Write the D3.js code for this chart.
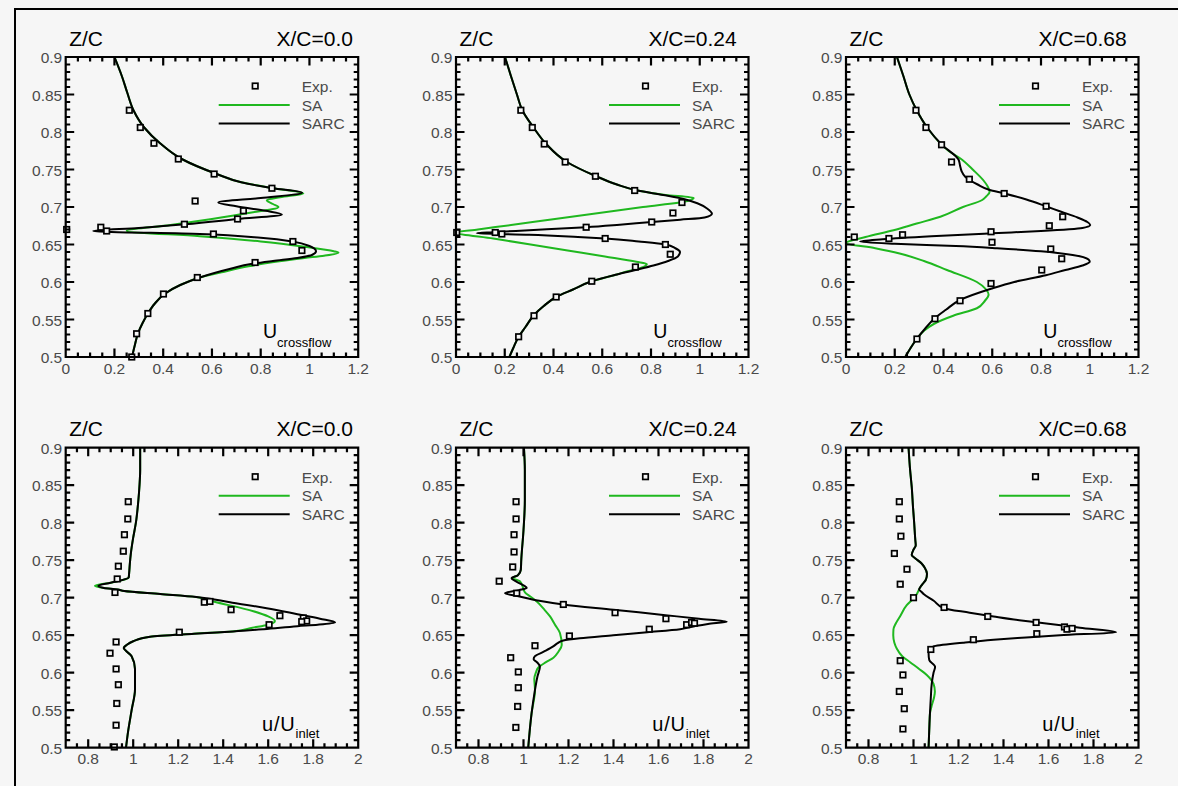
<!DOCTYPE html>
<html>
<head>
<meta charset="utf-8">
<script src="https://cdn.jsdelivr.net/npm/d3@7"></script>
<style>
  html, body { margin: 0; padding: 0; background: #f6f6f6; }
  svg { display: block; }
  text { font-family: "Liberation Sans", Arial, Helvetica, sans-serif; }
</style>
</head>
<body>
<svg id="chart" width="1178" height="786"></svg>
<script>
// ---------- categories / labels ----------
const stations = ["X/C=0.0", "X/C=0.24", "X/C=0.68"];
const seriesNames = ["Exp.", "SA", "SARC"];
const zTicks = [0.5, 0.55, 0.6, 0.65, 0.7, 0.75, 0.8, 0.85, 0.9];
const crossTicks = [0, 0.2, 0.4, 0.6, 0.8, 1, 1.2];
const streamTicks = [0.8, 1, 1.2, 1.4, 1.6, 1.8, 2];

// ---------- crossflow velocity, X/C = 0.0  ([U, Z/C]) ----------
const crossExp0 = [[0.261,0.829],[0.306,0.806],[0.362,0.785],[0.462,0.764],[0.609,0.744],[0.846,0.725],[0.531,0.708],[0.729,0.695],[0.705,0.684],[0.487,0.677],[0.144,0.673],[0.004,0.670],[0.168,0.668],[0.606,0.664],[0.932,0.654],[0.969,0.642],[0.777,0.626],[0.540,0.606],[0.401,0.584],[0.337,0.558],[0.291,0.531],[0.271,0.500]];
const crossSA0 = [[0.200,0.900],[0.232,0.873],[0.252,0.853],[0.278,0.829],[0.322,0.806],[0.387,0.785],[0.476,0.764],[0.620,0.744],[0.720,0.733],[0.850,0.725],[0.975,0.718],[0.880,0.713],[0.825,0.709],[0.850,0.704],[0.873,0.700],[0.750,0.692],[0.600,0.684],[0.430,0.676],[0.250,0.668],[0.550,0.661],[0.800,0.654],[0.980,0.647],[1.100,0.641],[1.119,0.639],[1.060,0.635],[0.980,0.632],[0.840,0.626],[0.750,0.621],[0.640,0.613],[0.550,0.606],[0.470,0.596],[0.405,0.584],[0.365,0.571],[0.337,0.558],[0.315,0.545],[0.297,0.532],[0.283,0.515],[0.272,0.500]];
const crossSARC0 = [[0.200,0.900],[0.232,0.873],[0.252,0.853],[0.278,0.829],[0.322,0.806],[0.387,0.785],[0.476,0.764],[0.620,0.744],[0.720,0.733],[0.850,0.725],[0.970,0.719],[0.800,0.712],[0.626,0.706],[0.700,0.701],[0.820,0.695],[0.887,0.690],[0.705,0.684],[0.490,0.677],[0.300,0.672],[0.113,0.668],[0.550,0.664],[0.800,0.659],[0.930,0.654],[1.000,0.648],[1.027,0.641],[1.010,0.636],[0.950,0.632],[0.850,0.628],[0.760,0.624],[0.680,0.618],[0.610,0.612],[0.550,0.606],[0.470,0.596],[0.405,0.584],[0.365,0.571],[0.337,0.558],[0.315,0.545],[0.297,0.532],[0.283,0.515],[0.272,0.500]];

// ---------- crossflow velocity, X/C = 0.24 ----------
const crossExp24 = [[0.266,0.829],[0.313,0.806],[0.362,0.784],[0.448,0.760],[0.572,0.741],[0.733,0.722],[0.927,0.706],[0.890,0.692],[0.803,0.680],[0.534,0.673],[0.161,0.666],[0.003,0.666],[0.188,0.664],[0.612,0.658],[0.859,0.650],[0.879,0.637],[0.736,0.620],[0.557,0.601],[0.411,0.580],[0.320,0.555],[0.257,0.527]];
const crossSA24 = [[0.201,0.900],[0.225,0.875],[0.250,0.850],[0.272,0.829],[0.318,0.806],[0.370,0.784],[0.455,0.760],[0.575,0.741],[0.660,0.730],[0.745,0.722],[0.860,0.716],[0.975,0.712],[0.950,0.708],[0.767,0.700],[0.587,0.692],[0.406,0.684],[0.226,0.676],[0.090,0.670],[0.000,0.666],[0.153,0.658],[0.306,0.650],[0.458,0.642],[0.611,0.634],[0.740,0.627],[0.783,0.624],[0.760,0.619],[0.700,0.614],[0.660,0.610],[0.557,0.601],[0.480,0.590],[0.411,0.580],[0.360,0.568],[0.320,0.556],[0.285,0.540],[0.257,0.527],[0.235,0.512],[0.219,0.500]];
const crossSARC24 = [[0.201,0.900],[0.225,0.875],[0.250,0.850],[0.272,0.829],[0.318,0.806],[0.370,0.784],[0.455,0.760],[0.575,0.741],[0.660,0.730],[0.745,0.722],[0.850,0.716],[0.930,0.711],[0.990,0.705],[1.030,0.698],[1.050,0.691],[1.020,0.686],[0.920,0.683],[0.803,0.680],[0.660,0.676],[0.534,0.673],[0.300,0.669],[0.150,0.6665],[0.085,0.665],[0.300,0.663],[0.500,0.660],[0.612,0.658],[0.750,0.654],[0.860,0.650],[0.900,0.645],[0.919,0.640],[0.910,0.634],[0.870,0.628],[0.810,0.622],[0.750,0.617],[0.660,0.610],[0.557,0.601],[0.480,0.590],[0.411,0.580],[0.360,0.568],[0.320,0.556],[0.285,0.540],[0.257,0.527],[0.235,0.512],[0.219,0.500]];

// ---------- crossflow velocity, X/C = 0.68 ----------
const crossExp68 = [[0.287,0.829],[0.328,0.806],[0.392,0.783],[0.433,0.760],[0.506,0.737],[0.649,0.718],[0.821,0.701],[0.889,0.687],[0.834,0.675],[0.595,0.667],[0.232,0.663],[0.176,0.658],[0.034,0.660],[0.599,0.653],[0.840,0.644],[0.885,0.631],[0.803,0.616],[0.595,0.598],[0.468,0.575],[0.365,0.551],[0.291,0.524]];
const crossSA68 = [[0.209,0.900],[0.235,0.875],[0.260,0.850],[0.290,0.829],[0.333,0.806],[0.393,0.783],[0.420,0.775],[0.468,0.765],[0.523,0.749],[0.565,0.735],[0.585,0.725],[0.589,0.720],[0.575,0.714],[0.557,0.709],[0.480,0.700],[0.387,0.687],[0.290,0.678],[0.195,0.669],[0.080,0.660],[0.000,0.652],[0.120,0.645],[0.220,0.638],[0.320,0.628],[0.414,0.616],[0.537,0.600],[0.575,0.590],[0.585,0.583],[0.570,0.575],[0.537,0.565],[0.440,0.555],[0.360,0.544],[0.320,0.535],[0.290,0.524],[0.265,0.512],[0.243,0.500]];
const crossSARC68 = [[0.209,0.900],[0.235,0.875],[0.260,0.850],[0.290,0.829],[0.333,0.806],[0.393,0.783],[0.462,0.763],[0.468,0.755],[0.474,0.748],[0.490,0.740],[0.540,0.730],[0.587,0.723],[0.650,0.718],[0.740,0.710],[0.820,0.701],[0.880,0.694],[0.950,0.686],[0.990,0.680],[1.002,0.676],[0.970,0.672],[0.800,0.668],[0.600,0.665],[0.350,0.661],[0.150,0.657],[0.058,0.654],[0.200,0.651],[0.450,0.648],[0.620,0.645],[0.800,0.641],[0.930,0.636],[0.995,0.630],[1.000,0.627],[0.970,0.622],[0.900,0.616],[0.820,0.609],[0.690,0.600],[0.595,0.591],[0.468,0.576],[0.410,0.563],[0.365,0.552],[0.325,0.538],[0.290,0.524],[0.265,0.512],[0.243,0.500]];

// ---------- streamwise velocity, X/C = 0.0  ([u/Uinlet, Z/C]) ----------
const streamExp0 = [[0.978,0.828],[0.976,0.805],[0.961,0.784],[0.956,0.762],[0.934,0.742],[0.929,0.725],[0.919,0.707],[1.316,0.694],[1.341,0.695],[1.435,0.684],[1.652,0.676],[1.756,0.673],[1.771,0.669],[1.749,0.668],[1.604,0.664],[1.205,0.654],[0.924,0.641],[0.897,0.626],[0.924,0.605],[0.934,0.584],[0.927,0.559],[0.924,0.530],[0.916,0.501]];
const streamSA0 = [[1.031,0.900],[1.031,0.870],[1.028,0.850],[1.023,0.830],[1.012,0.800],[1.000,0.780],[0.990,0.760],[0.985,0.745],[0.982,0.733],[0.980,0.727],[0.900,0.720],[0.830,0.716],[0.870,0.713],[0.930,0.711],[0.960,0.709],[1.120,0.705],[1.280,0.701],[1.356,0.695],[1.534,0.682],[1.600,0.675],[1.630,0.669],[1.620,0.666],[1.600,0.664],[1.530,0.660],[1.440,0.655],[1.270,0.652],[1.075,0.648],[1.000,0.642],[0.971,0.637],[0.958,0.633],[0.965,0.630],[0.993,0.622],[1.008,0.605],[1.008,0.578],[0.993,0.550],[0.978,0.523],[0.968,0.500]];
const streamSARC0 = [[1.031,0.900],[1.031,0.870],[1.028,0.850],[1.023,0.830],[1.012,0.800],[1.000,0.780],[0.990,0.760],[0.985,0.745],[0.982,0.733],[0.980,0.727],[0.900,0.720],[0.845,0.716],[0.870,0.713],[0.930,0.711],[0.960,0.709],[1.120,0.705],[1.280,0.701],[1.430,0.694],[1.593,0.686],[1.730,0.678],[1.830,0.672],[1.897,0.667],[1.820,0.664],[1.730,0.662],[1.580,0.658],[1.445,0.655],[1.270,0.652],[1.075,0.648],[1.000,0.642],[0.971,0.637],[0.958,0.633],[0.965,0.630],[0.993,0.622],[1.008,0.605],[1.008,0.578],[0.993,0.550],[0.978,0.523],[0.968,0.500]];

// ---------- streamwise velocity, X/C = 0.24 ----------
const streamExp24 = [[0.967,0.828],[0.967,0.805],[0.958,0.784],[0.958,0.761],[0.952,0.741],[0.892,0.722],[0.970,0.706],[1.177,0.691],[1.407,0.680],[1.633,0.672],[1.725,0.664],[1.747,0.667],[1.760,0.666],[1.559,0.658],[1.204,0.649],[1.051,0.636],[0.943,0.620],[0.977,0.601],[0.977,0.580],[0.974,0.555],[0.966,0.527]];
const streamSA24 = [[1.002,0.900],[1.006,0.870],[1.006,0.830],[1.000,0.790],[0.990,0.750],[0.988,0.737],[0.975,0.730],[0.950,0.726],[0.984,0.722],[0.995,0.716],[1.000,0.711],[1.010,0.706],[1.029,0.702],[1.059,0.695],[1.090,0.685],[1.118,0.675],[1.140,0.664],[1.162,0.653],[1.170,0.637],[1.155,0.628],[1.133,0.620],[1.100,0.614],[1.066,0.607],[1.055,0.600],[1.048,0.592],[1.051,0.577],[1.036,0.546],[1.021,0.500]];
const streamSARC24 = [[1.002,0.900],[1.006,0.870],[1.006,0.830],[1.000,0.790],[0.990,0.750],[0.988,0.737],[0.975,0.730],[0.947,0.726],[0.965,0.722],[0.990,0.718],[1.014,0.713],[0.980,0.710],[0.918,0.706],[0.977,0.702],[1.070,0.696],[1.177,0.691],[1.400,0.684],[1.621,0.677],[1.780,0.672],[1.903,0.668],[1.820,0.665],[1.760,0.662],[1.696,0.658],[1.550,0.654],[1.399,0.650],[1.250,0.646],[1.177,0.643],[1.150,0.639],[1.132,0.635],[1.090,0.628],[1.051,0.622],[1.045,0.618],[1.060,0.614],[1.073,0.608],[1.062,0.595],[1.051,0.577],[1.036,0.546],[1.021,0.500]];

// ---------- streamwise velocity, X/C = 0.68 ----------
const streamExp68 = [[0.937,0.828],[0.937,0.805],[0.944,0.782],[0.915,0.759],[0.971,0.738],[0.941,0.718],[1.000,0.700],[1.136,0.687],[1.330,0.675],[1.545,0.667],[1.671,0.661],[1.682,0.658],[1.705,0.659],[1.548,0.652],[1.266,0.644],[1.077,0.631],[0.941,0.616],[0.953,0.597],[0.937,0.575],[0.959,0.552],[0.953,0.525]];
const streamSA68 = [[0.978,0.900],[0.985,0.870],[0.992,0.848],[0.998,0.820],[1.003,0.800],[1.008,0.777],[1.010,0.770],[1.000,0.764],[0.992,0.757],[1.010,0.752],[1.035,0.746],[1.050,0.740],[1.060,0.732],[1.055,0.724],[1.040,0.718],[1.030,0.714],[1.015,0.705],[1.000,0.699],[0.970,0.690],[0.940,0.675],[0.920,0.665],[0.911,0.658],[0.910,0.650],[0.915,0.640],[0.926,0.632],[0.950,0.622],[0.985,0.614],[1.025,0.605],[1.059,0.597],[1.089,0.585],[1.095,0.575],[1.092,0.568],[1.080,0.555],[1.073,0.545],[1.071,0.532],[1.067,0.500]];
const streamSARC68 = [[0.978,0.900],[0.985,0.870],[0.992,0.848],[0.998,0.820],[1.003,0.800],[1.008,0.777],[1.010,0.770],[1.000,0.764],[0.992,0.757],[1.010,0.752],[1.035,0.746],[1.050,0.740],[1.060,0.732],[1.055,0.724],[1.040,0.718],[1.030,0.714],[1.025,0.711],[1.035,0.708],[1.045,0.705],[1.090,0.696],[1.134,0.686],[1.250,0.680],[1.356,0.675],[1.470,0.670],[1.581,0.666],[1.740,0.660],[1.900,0.654],[1.651,0.650],[1.500,0.647],[1.356,0.644],[1.220,0.640],[1.089,0.635],[1.070,0.630],[1.067,0.626],[1.070,0.617],[1.096,0.608],[1.089,0.600],[1.081,0.585],[1.077,0.567],[1.071,0.532],[1.067,0.500]];

// ---------- layout ----------
const W = 1178, H = 786;
const colLeft = [65.7, 456, 846];
const plotW = 292.5;
const rowTop = [57, 447.7];
const plotH = 300;
const titleEnd = [353, 736.7, 1126.7];

const green = "#1fb81f";
const ink = "#000000";
const grey = "#4a4a4a";
const bg = "#f6f6f6";

const svg = d3.select("#chart");
svg.append("rect").attr("width", W).attr("height", H).attr("fill", bg);

// outer frame (top and left edges)
svg.append("path").attr("d", `M${W},9H15V${H}`)
   .attr("fill", "none").attr("stroke", ink).attr("stroke-width", 2);

const panels = [
  { row: 0, col: 0, exp: crossExp0,   sa: crossSA0,   sarc: crossSARC0 },
  { row: 0, col: 1, exp: crossExp24,  sa: crossSA24,  sarc: crossSARC24 },
  { row: 0, col: 2, exp: crossExp68,  sa: crossSA68,  sarc: crossSARC68 },
  { row: 1, col: 0, exp: streamExp0,  sa: streamSA0,  sarc: streamSARC0 },
  { row: 1, col: 1, exp: streamExp24, sa: streamSA24, sarc: streamSARC24 },
  { row: 1, col: 2, exp: streamExp68, sa: streamSA68, sarc: streamSARC68 }
];

const fmt = v => String(v);
const isMajor = (list, v) => list.some(t => Math.abs(t - v) < 1e-6);

panels.forEach((p, i) => {
  const left = colLeft[p.col], top = rowTop[p.row];
  const right = left + plotW, bottom = top + plotH;
  const isCross = p.row === 0;
  const xTicks = isCross ? crossTicks : streamTicks;
  const xDomain = isCross ? [0, 1.2] : [0.7, 2];
  const x = d3.scaleLinear().domain(xDomain).range([left, right]);
  const y = d3.scaleLinear().domain([0.5, 0.9]).range([bottom, top]);

  const g = svg.append("g");

  const clipId = "clip" + i;
  g.append("clipPath").attr("id", clipId).append("rect")
    .attr("x", left).attr("y", top).attr("width", plotW).attr("height", plotH);

  // tick labels
  g.append("g").selectAll("text").data(xTicks).join("text")
    .attr("x", d => x(d)).attr("y", bottom + 16.5)
    .attr("text-anchor", "middle").attr("font-size", 15.5).attr("fill", grey)
    .text(fmt);
  g.append("g").selectAll("text").data(zTicks).join("text")
    .attr("x", left - 3.5).attr("y", d => y(d) + 6)
    .attr("text-anchor", "end").attr("font-size", 15.5).attr("fill", grey)
    .text(fmt);

  // profiles
  const line = d3.line().x(d => x(d[0])).y(d => y(d[1])).curve(d3.curveMonotoneY);
  const curves = g.append("g").attr("clip-path", `url(#${clipId})`);
  curves.append("path").datum(p.sa).attr("d", line)
    .attr("fill", "none").attr("stroke", green).attr("stroke-width", 2);
  curves.append("path").datum(p.sarc).attr("d", line)
    .attr("fill", "none").attr("stroke", ink).attr("stroke-width", 2);

  // experiment symbols
  const sq = 5.5;
  g.append("g").selectAll("rect").data(p.exp).join("rect")
    .attr("x", d => x(d[0]) - sq / 2).attr("y", d => y(d[1]) - sq / 2)
    .attr("width", sq).attr("height", sq)
    .attr("fill", bg).attr("stroke", ink).attr("stroke-width", 1.7);

  // titles
  g.append("text").attr("x", left + 3.5).attr("y", top - 11.5)
    .attr("font-size", 21).attr("fill", ink).text("Z/C");
  g.append("text").attr("x", titleEnd[p.col]).attr("y", top - 11.5)
    .attr("text-anchor", "end").attr("font-size", 21).attr("fill", ink).text(stations[p.col]);

  // legend
  const lx = left, ly = top;
  g.append("rect").attr("x", lx + 189.5 - sq / 2).attr("y", ly + 29 - sq / 2)
    .attr("width", sq).attr("height", sq).attr("fill", bg).attr("stroke", ink).attr("stroke-width", 1.7);
  g.append("path").attr("d", `M${lx + 153},${ly + 48}H${lx + 224}`)
    .attr("stroke", green).attr("stroke-width", 2);
  g.append("path").attr("d", `M${lx + 153},${ly + 66.5}H${lx + 224}`)
    .attr("stroke", ink).attr("stroke-width", 2);
  seriesNames.forEach((s, k) => {
    g.append("text").attr("x", lx + 236).attr("y", ly + 35 + k * 18.5)
      .attr("font-size", 15.5).attr("fill", grey).text(s);
  });

  // quantity label with subscript
  const q = g.append("text").attr("x", left + (isCross ? 197.3 : 196.3))
    .attr("y", bottom - (isCross ? 19 : 17)).attr("fill", ink);
  q.append("tspan").attr("font-size", isCross ? 19.5 : 20)
    .attr("letter-spacing", isCross ? 0 : 0.8).text(isCross ? "U" : "u/U");
  q.append("tspan").attr("font-size", 13).attr("dy", isCross ? 9 : 7)
    .attr("letter-spacing", 0).text(isCross ? "crossflow" : "inlet");

  // plot frame and inward ticks on all four sides, one stroked outline
  const minorX = d3.range(Math.round(xDomain[0] * 20), Math.round(xDomain[1] * 20) + 1)
    .map(k => k / 20).filter(v => !isMajor(xTicks, v));
  const minorZ = d3.range(50, 91).map(k => k / 100).filter(v => !isMajor(zTicks, v));
  let d = `M${left},${top}H${right}V${bottom}H${left}Z`;
  xTicks.concat(minorX).forEach(v => {
    const len = isMajor(xTicks, v) ? 8.5 : 4.5, px = x(v).toFixed(2);
    d += `M${px},${bottom}v${-len}M${px},${top}v${len}`;
  });
  zTicks.concat(minorZ).forEach(v => {
    const len = isMajor(zTicks, v) ? 8.5 : 4.5, py = y(v).toFixed(2);
    d += `M${left},${py}h${len}M${right},${py}h${-len}`;
  });
  g.append("path").attr("d", d)
    .attr("fill", "none").attr("stroke", ink).attr("stroke-width", 2.2);
});
</script>
</body>
</html>
